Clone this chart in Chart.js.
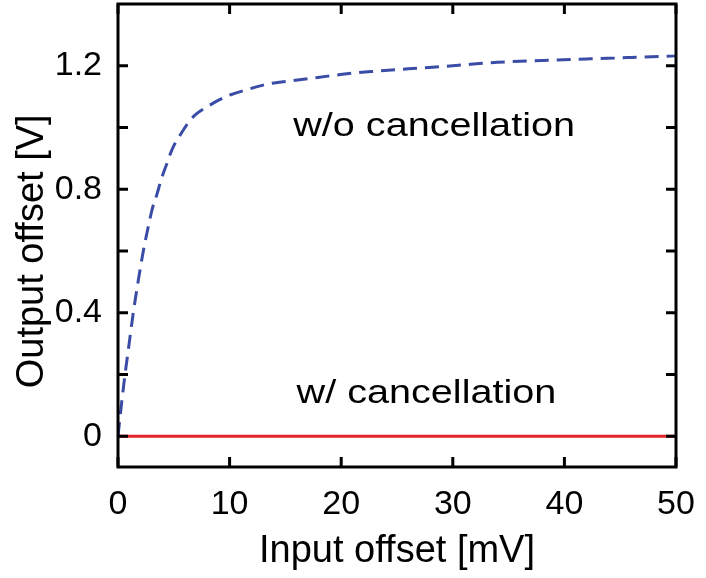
<!DOCTYPE html>
<html>
<head>
<meta charset="utf-8">
<script src="https://cdn.jsdelivr.net/npm/chart.js@4.4.0/dist/chart.umd.min.js"></script>
<style>
  html, body { margin: 0; padding: 0; background: #fff; }
  #wrap { width: 706px; height: 578px; position: relative; }
</style>
</head>
<body>
<div id="wrap"><canvas id="offsetChart"></canvas></div>
<script>
// data
const inputOffset = [0, 0.3, 0.63, 1.0, 1.37, 1.8, 2.27, 2.75, 3.1, 3.46, 3.91, 4.35, 4.87, 5.5, 6.0, 6.5, 7.0, 7.9, 9.1, 10.1, 11.5, 13.6, 15.7, 17.9, 20.5, 23, 26, 30, 34, 38, 42, 46, 50];
const outputNoCancel = [0, 0.1, 0.2, 0.3, 0.4, 0.5, 0.6, 0.685, 0.74, 0.78, 0.836, 0.88, 0.931, 0.971, 1.0, 1.025, 1.043, 1.065, 1.09, 1.106, 1.122, 1.142, 1.152, 1.162, 1.174, 1.182, 1.19, 1.2, 1.211, 1.217, 1.222, 1.227, 1.232];
const inputCancel = [0, 50];
const outputCancel = [0, 0];
const xTicks = [0, 10, 20, 30, 40, 50];
const yTicks = [0, 0.2, 0.4, 0.6, 0.8, 1.0, 1.2];
const yLabelled = [0, 0.4, 0.8, 1.2];
// annotation labels: [text, x, y(baseline)]
const notes = [
    ['w/o cancellation', 15.7, 0.971],
    ['w/ cancellation', 16.0, 0.107]
];

const FONT = "'Liberation Sans', Arial, sans-serif";

function toPoints(xs, ys) {
    return xs.map((x, i) => ({ x: x, y: ys[i] }));
}

// frame + inward ticks on all four sides, and the text labels
const frameTicks = {
    id: 'frameTicks',
    afterDatasetsDraw(chart) {
        const ctx = chart.ctx;
        const a = chart.chartArea;
        const xs = chart.scales.x, ys = chart.scales.y;
        const len = 10;
        ctx.save();
        ctx.strokeStyle = '#000';
        ctx.lineWidth = 3;
        ctx.beginPath();
        xTicks.forEach(v => {
            const px = xs.getPixelForValue(v);
            ctx.moveTo(px, a.bottom); ctx.lineTo(px, a.bottom - len);
            ctx.moveTo(px, a.top); ctx.lineTo(px, a.top + len);
        });
        yTicks.forEach(v => {
            const py = ys.getPixelForValue(v);
            ctx.moveTo(a.left, py); ctx.lineTo(a.left + len, py);
            ctx.moveTo(a.right, py); ctx.lineTo(a.right - len, py);
        });
        ctx.stroke();
        ctx.strokeRect(a.left, a.top, a.right - a.left, a.bottom - a.top);

        // labels, slightly widened like the original lettering
        ctx.fillStyle = '#000';
        ctx.font = '33px ' + FONT;
        ctx.textAlign = 'left';
        ctx.textBaseline = 'alphabetic';
        notes.forEach(n => {
            const px = xs.getPixelForValue(n[1]);
            const py = ys.getPixelForValue(n[2]);
            ctx.save();
            ctx.translate(px, py);
            ctx.scale(1.2, 1);
            ctx.fillText(n[0], 0, 0);
            ctx.restore();
        });
        ctx.restore();
    }
};

const ctx = document.getElementById('offsetChart').getContext('2d');
const offsetChart = new Chart(ctx, {
    type: 'line',
    plugins: [frameTicks],
    data: {
        datasets: [{
            label: 'w/ cancellation',
            data: toPoints(inputCancel, outputCancel),
            borderColor: '#e3242b',
            borderWidth: 3,
            pointRadius: 0,
            order: 2
        },
        {
            label: 'w/o cancellation',
            data: toPoints(inputOffset, outputNoCancel),
            borderColor: '#3a4ca6',
            borderWidth: 3,
            borderDash: [14, 8],
            pointRadius: 0,
            cubicInterpolationMode: 'monotone',
            order: 1
        }]
    },
    options: {
        responsive: true,
        maintainAspectRatio: false,
        animation: false,
        layout: { padding: { top: 4, right: 30, left: 0, bottom: 0 } },
        plugins: {
            legend: { display: false },
            tooltip: { enabled: false }
        },
        scales: {
            x: {
                type: 'linear',
                min: 0,
                max: 50,
                grid: { display: false },
                border: { display: false },
                afterBuildTicks: (s) => { s.ticks = xTicks.map(v => ({ value: v })); },
                afterFit: (s) => { s.height = 111; s.paddingLeft = 0; s.paddingRight = 0; },
                ticks: {
                    color: '#000',
                    padding: 9,
                    maxRotation: 0,
                    font: { family: FONT, size: 34 }
                },
                title: {
                    display: true,
                    text: 'Input offset [mV]',
                    color: '#000',
                    padding: { top: 0, bottom: 7 },
                    font: { family: FONT, size: 38, lineHeight: 1 }
                }
            },
            y: {
                type: 'linear',
                min: -0.1,
                max: 1.4,
                grid: { display: false },
                border: { display: false },
                afterBuildTicks: (s) => { s.ticks = yLabelled.map(v => ({ value: v })); },
                afterFit: (s) => { s.width = 118; s.paddingTop = 0; s.paddingBottom = 0; },
                ticks: {
                    color: '#000',
                    padding: 8,
                    font: { family: FONT, size: 34 },
                    callback: (v) => v === 0 ? '0' : v.toFixed(1)
                },
                title: {
                    display: true,
                    // trailing spaces nudge the rotated title down a little
                    text: 'Output offset [V]\u00a0\u00a0\u00a0',
                    color: '#000',
                    padding: { top: 14, bottom: 0 },
                    font: { family: FONT, size: 38, lineHeight: 1 }
                }
            }
        }
    }
});
</script>
</body>
</html>
